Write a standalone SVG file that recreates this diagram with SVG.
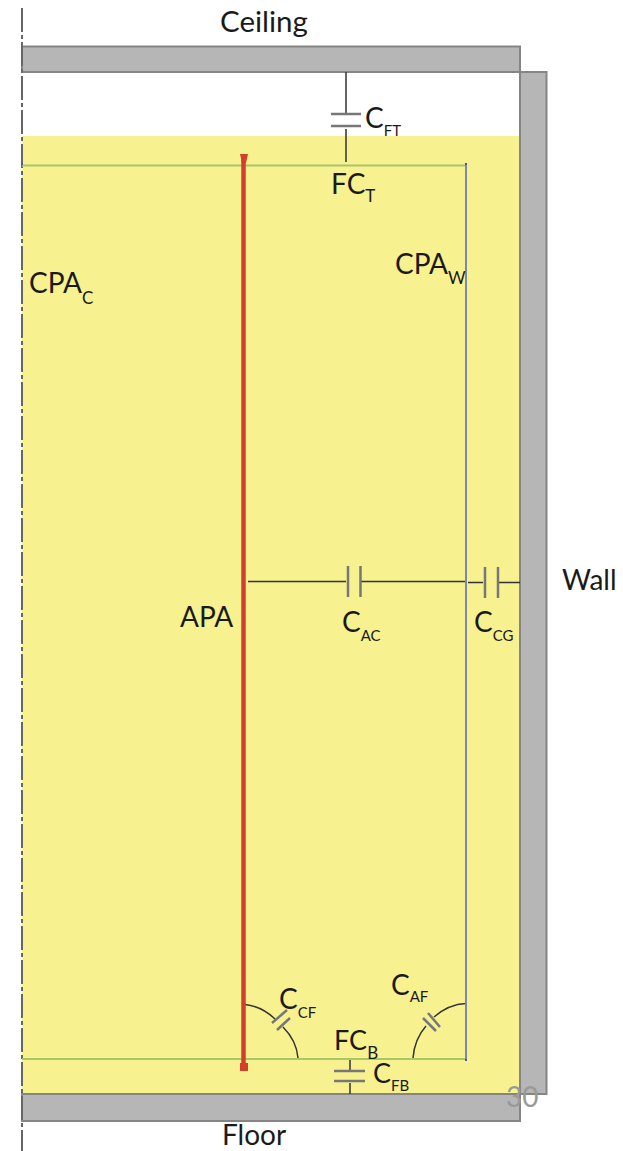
<svg xmlns="http://www.w3.org/2000/svg" width="623" height="1151" viewBox="0 0 623 1151">
<style>
text{font-family:"Lato","Noto Sans","Liberation Sans",sans-serif;fill:#1a1a1a;font-size:28px}
.s{font-size:15px}
.m{font-size:17px}
.slab{fill:#b6b6b6;stroke:#858585;stroke-width:2}
.w{fill:none;stroke:#333;stroke-width:1.5}
.p{fill:none;stroke:#777;stroke-width:2.5}
.gr{stroke:#a9c766;stroke-width:2;fill:none}
.bl{stroke:#7f86ad;stroke-width:2;fill:none}
.dot{fill:#4a55a8}
</style>
<rect width="623" height="1151" fill="#fff"/>
<g id="fill-region"><rect x="22" y="136" width="498" height="958" fill="#f7f190"/></g>
<g id="wall"><rect class="slab" x="520" y="72" width="26.500" height="1022"/><text x="562" y="590">Wall</text></g>
<g id="ceiling"><rect class="slab" x="22" y="46.500" width="498" height="25.500"/><text x="220" y="32" style="font-size:29.500px">Ceiling</text></g>
<g id="floor"><rect class="slab" x="22" y="1094" width="498" height="27"/><text x="222" y="1145">Floor</text></g>
<g id="axis"><path d="M22 8V1151" fill="none" stroke="#666" stroke-width="2" stroke-dasharray="24 3 4 3"/></g>
<g id="connectors">
<path class="w" d="M346 72V114M346 129V162"/>
<path class="p" d="M331 114H361M331 126H361"/>
<path class="w" d="M248 581.500H346M361 581.500H466"/>
<path class="p" d="M348 566V597M360.500 566V597"/>
<path class="w" d="M468 582.500H483M498 582.500H520"/>
<path class="p" d="M485 567V598M498 567V598"/>
<path class="w" d="M245 1004.500C258 1006 268 1012 276 1020M283 1027C292 1036 297 1046 298 1058"/>
<path class="p" d="M272 1023L287 1010M277 1030L290 1018"/>
<path class="w" d="M466 1003.500C453 1004 442 1010 434 1017M426 1026C418 1035 414 1046 413 1058"/>
<path class="p" d="M428 1013L440 1027M423 1018L436 1031"/>
<path class="w" d="M350 1059V1070M350 1083V1094"/>
<path class="p" d="M334 1071H365M334 1081H365"/>
</g>
<g id="fc-t"><path class="gr" d="M22 165.500H466"/><rect class="dot" x="21" y="163" width="2" height="2"/><text x="331" y="194">FC<tspan class="m" dy="8">T</tspan></text></g>
<g id="fc-b"><path class="gr" d="M22 1059H466"/><text x="334" y="1050" style="font-size:27px">FC<tspan class="m" dy="9">B</tspan></text></g>
<g id="cpa-w"><path class="bl" d="M466 164V1060"/><rect class="dot" x="465" y="163" width="2" height="2"/><rect class="dot" x="465" y="1059" width="2" height="2"/><text x="395" y="274">CPA<tspan class="m" dy="10">W</tspan></text></g>
<g id="cpa-c"><text x="29" y="293">CPA<tspan class="m" dy="11">C</tspan></text></g>
<g id="apa"><path d="M243.500 158V1066" stroke="#d23f2a" stroke-width="4.500" fill="none"/><path d="M240 154H248L246 163H242Z" fill="#d23f2a"/><rect x="240" y="1063" width="8" height="8" fill="#d23f2a"/><text x="180" y="627">APA</text></g>
<g id="c-ft"><text x="365" y="128">C<tspan class="s" dy="8">FT</tspan></text></g>
<g id="c-ac"><text x="342" y="632">C<tspan class="s" dy="9">AC</tspan></text></g>
<g id="c-cg"><text x="474" y="632">C<tspan class="s" dy="9">CG</tspan></text></g>
<g id="c-cf"><text x="279" y="1009">C<tspan class="s" dy="9">CF</tspan></text></g>
<g id="c-af"><text x="391" y="995">C<tspan class="s" dy="7">AF</tspan></text></g>
<g id="c-fb"><text x="373" y="1083" style="font-size:27px">C<tspan class="s" dy="8">FB</tspan></text></g>
<g id="page-number"><text x="506" y="1107" style="fill:#999">30</text></g>
</svg>
